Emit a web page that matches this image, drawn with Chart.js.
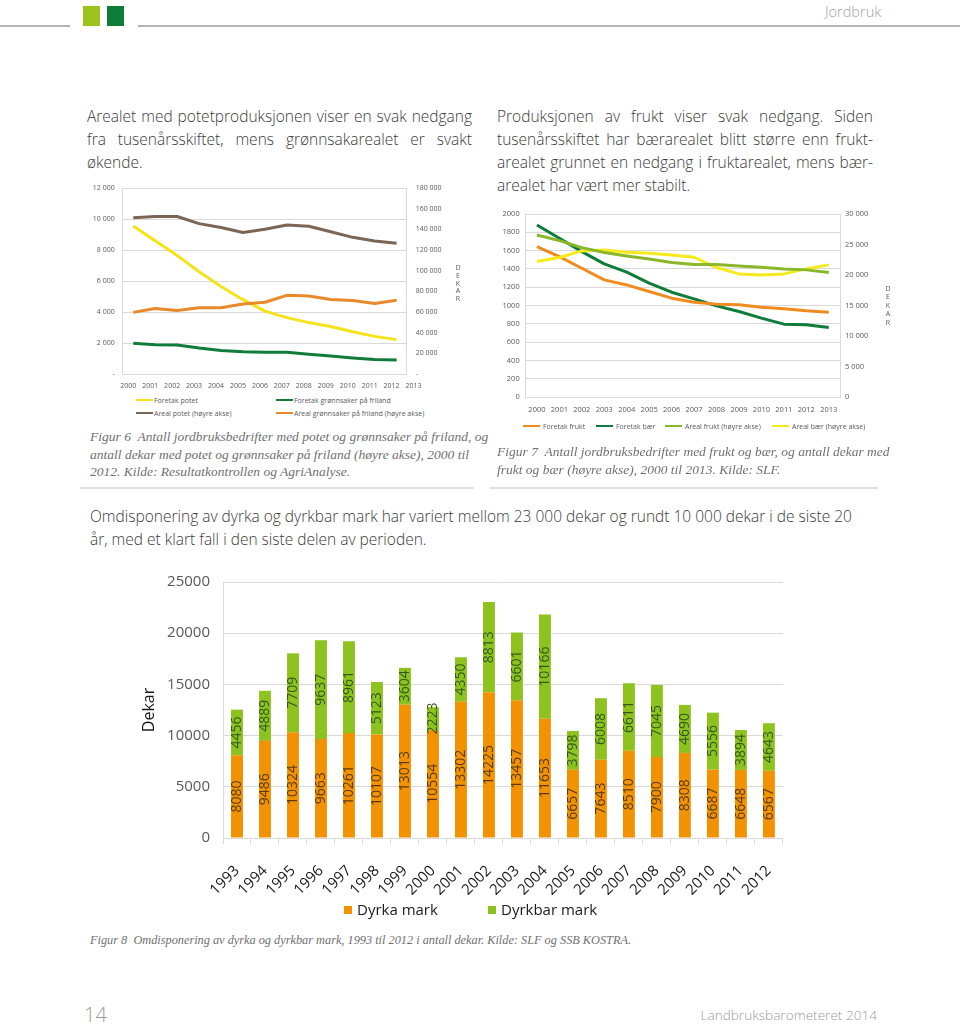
<!DOCTYPE html>
<html><head><meta charset="utf-8">
<script src="https://cdn.jsdelivr.net/npm/chart.js@4.4.1/dist/chart.umd.min.js"></script>
<style>
html,body{margin:0;padding:0;background:#fff;}
body{width:960px;height:1024px;position:relative;overflow:hidden;font-family:"Open Sans",sans-serif;}
.abs{position:absolute;}
.para{font-size:15.5px;line-height:23px;color:#3a3a3a;font-weight:300;}
.jl{text-align:justify;text-align-last:justify;white-space:nowrap;}
.ll{white-space:nowrap;}
.cap{font-family:"Liberation Serif",serif;font-style:italic;font-size:13.5px;line-height:17.5px;color:#707070;}
.leg{position:absolute;font-size:7px;color:#595959;line-height:9px;white-space:nowrap;}
.sw{position:absolute;height:2px;width:17px;}
.dek{position:absolute;font-size:7px;color:#595959;text-align:center;width:10px;}
canvas{position:absolute;}
</style></head><body>

<!-- header -->
<div class="abs" style="left:0;top:25px;width:70px;height:1.5px;background:#b3b3b3"></div>
<div class="abs" style="left:138px;top:25px;width:822px;height:1.5px;background:#b3b3b3"></div>
<div class="abs" style="left:83px;top:6px;width:17px;height:20px;background:#9cc31c"></div>
<div class="abs" style="left:107px;top:6px;width:17px;height:20px;background:#0f7d3a"></div>
<div class="abs" style="left:825px;top:2px;font-size:14.5px;font-weight:300;color:#a3a3a3;">Jordbruk</div>

<!-- paragraphs -->
<div class="abs para" style="left:87px;top:105px;width:385px;">
<div class="jl">Arealet med potetproduksjonen viser en svak nedgang</div>
<div class="jl">fra tusenårsskiftet, mens grønnsakarealet er svakt</div>
<div class="ll">økende.</div>
</div>
<div class="abs para" style="left:497px;top:105px;width:376px;">
<div class="jl">Produksjonen av frukt viser svak nedgang. Siden</div>
<div class="jl">tusenårsskiftet har bærarealet blitt større enn frukt-</div>
<div class="jl">arealet grunnet en nedgang i fruktarealet, mens bær-</div>
<div class="ll">arealet har vært mer stabilt.</div>
</div>

<!-- figure 6 -->
<canvas id="c6" width="400" height="220" style="left:80px;top:175px;"></canvas>
<div class="dek" style="left:453px;top:264px;line-height:7.8px;">D<br>E<br>K<br>A<br>R</div>
<div class="sw" style="left:136px;top:399px;background:#f5e31a"></div><div class="leg" style="left:154px;top:395.5px">Foretak potet</div>
<div class="sw" style="left:276px;top:399px;background:#107c3a"></div><div class="leg" style="left:294px;top:395.5px">Foretak grønnsaker på friland</div>
<div class="sw" style="left:136px;top:412px;background:#7b6656"></div><div class="leg" style="left:154px;top:408.5px">Areal potet (høyre akse)</div>
<div class="sw" style="left:276px;top:412px;background:#e8892a"></div><div class="leg" style="left:294px;top:408.5px">Areal grønnsaker på friland (høyre akse)</div>
<div class="abs cap" style="left:90px;top:428px;width:378px;">
<div class="jl">Figur 6&nbsp; Antall jordbruksbedrifter med potet og grønnsaker på friland, og</div>
<div class="jl">antall dekar med potet og grønnsaker på friland (høyre akse), 2000 til</div>
<div class="ll">2012. Kilde: Resultatkontrollen og AgriAnalyse.</div>
</div>
<div class="abs" style="left:80px;top:487px;width:394px;height:2px;background:#e0e0e0"></div>

<!-- figure 7 -->
<canvas id="c7" width="420" height="215" style="left:490px;top:200px;"></canvas>
<div class="dek" style="left:883px;top:285px;line-height:8.4px;">D<br>E<br>K<br>A<br>R</div>
<div class="sw" style="left:523px;top:425px;background:#f08c1e"></div><div class="leg" style="left:543px;top:421.5px">Foretak frukt</div>
<div class="sw" style="left:596px;top:425px;background:#0e7d3b"></div><div class="leg" style="left:616px;top:421.5px">Foretak bær</div>
<div class="sw" style="left:665px;top:425px;background:#8bb82b"></div><div class="leg" style="left:685px;top:421.5px">Areal frukt (høyre akse)</div>
<div class="sw" style="left:772px;top:425px;background:#f7ea1a"></div><div class="leg" style="left:792px;top:421.5px">Areal bær (høyre akse)</div>
<div class="abs cap" style="left:497px;top:443px;width:376px;">
<div class="jl">Figur 7&nbsp; Antall jordbruksbedrifter med frukt og bær, og antall dekar med</div>
<div class="ll">frukt og bær (høyre akse), 2000 til 2013. Kilde: SLF.</div>
</div>
<div class="abs" style="left:490px;top:487px;width:388px;height:2px;background:#e0e0e0"></div>

<!-- paragraph 3 -->
<div class="abs para" style="left:90px;top:505px;width:800px;">
<div class="ll">Omdisponering av dyrka og dyrkbar mark har variert mellom 23 000 dekar og rundt 10 000 dekar i de siste 20</div>
<div class="ll">år, med et klart fall i den siste delen av perioden.</div>
</div>

<!-- figure 8 -->
<canvas id="c8" width="720" height="345" style="left:80px;top:560px;"></canvas>
<div class="abs" style="left:344px;top:906px;width:8px;height:8px;background:#f39200"></div>
<div class="abs" style="left:357px;top:899px;font-size:15px;color:#1a1a1a;white-space:nowrap;">Dyrka mark</div>
<div class="abs" style="left:488px;top:906px;width:8px;height:8px;background:#8dc21f"></div>
<div class="abs" style="left:501px;top:899px;font-size:15px;color:#1a1a1a;white-space:nowrap;">Dyrkbar mark</div>
<div class="abs cap ll" style="left:90px;top:932px;font-size:12.3px;">Figur 8&nbsp; Omdisponering av dyrka og dyrkbar mark, 1993 til 2012 i antall dekar. Kilde: SLF og SSB KOSTRA.</div>

<!-- footer -->
<div class="abs" style="left:84px;top:1001px;font-size:20px;font-weight:300;color:#9a9a9a;">14</div>
<div class="abs" style="right:83px;top:1005px;font-size:13.6px;font-weight:300;color:#9a9a9a;white-space:nowrap;">Landbruksbarometeret 2014</div>

<script>
// ---- Figur 6 data ----
const years6 = [2000,2001,2002,2003,2004,2005,2006,2007,2008,2009,2010,2011,2012];
const xTicks6 = [2000,2001,2002,2003,2004,2005,2006,2007,2008,2009,2010,2011,2012,2013];
const foretakPotet = [9560,8600,7650,6600,5650,4800,4060,3640,3320,3070,2730,2430,2220];
const foretakGronn = [1990,1890,1880,1680,1520,1440,1400,1400,1270,1160,1040,930,900];
const arealPotet = [151400,152600,152600,145700,141900,137100,140300,144400,143200,137800,132400,128900,126700];
const arealGronn = [59700,63500,61600,64100,64100,67900,69500,76200,75600,72100,71100,68300,71400];

// ---- Figur 7 data ----
const years7 = ['2000','2001','2002','2003','2004','2005','2006','2007','2008','2009','2010','2011','2012','2013'];
const foretakFrukt = [1644,1535,1407,1280,1225,1153,1080,1036,1015,1007,982,964,942,927];
const foretakBaer = [1880,1735,1589,1455,1364,1244,1145,1073,996,935,862,796,789,760];
const arealFrukt = [26560,25640,24490,23680,23130,22640,22040,21710,21710,21490,21280,21000,20840,20400];
const arealBaer = [22200,22860,23950,24110,23730,23570,23290,22910,21220,20180,20020,20180,21000,21660];

// ---- Figur 8 data ----
const years8 = ['1993','1994','1995','1996','1997','1998','1999','2000','2001','2002','2003','2004','2005','2006','2007','2008','2009','2010','2011','2012'];
const dyrka = [8080,9486,10324,9663,10261,10107,13013,10554,13302,14225,13457,11653,6657,7643,8510,7900,8308,6687,6648,6567];
const dyrkbar = [4456,4889,7709,9637,8961,5123,3604,2223,4350,8813,6601,10166,3798,6008,6611,7045,4690,5556,3894,4643];

const fmt = v => String(v).replace(/\B(?=(\d{3})+(?!\d))/g, ' ');
const plain = v => String(v);
const GRID = '#d9d9d9', TICK = '#595959';
Chart.defaults.font.family = '"Open Sans", sans-serif';

function lineDs(label, data, color, axis){
  return {label, data, borderColor: color, backgroundColor: color, yAxisID: axis,
    borderWidth: 3, pointRadius: 0, tension: 0, fill: false, borderJoinStyle: 'round'};
}
const common = {responsive:false, maintainAspectRatio:false, animation:false,
  plugins:{legend:{display:false}, tooltip:{enabled:false}}};

new Chart(document.getElementById('c6'), {
  type: 'line',
  data: {labels: years6, datasets: [
    lineDs('Areal potet (høyre akse)', arealPotet, '#7b6656', 'y1'),
    lineDs('Areal grønnsaker på friland (høyre akse)', arealGronn, '#e8892a', 'y1'),
    lineDs('Foretak grønnsaker på friland', foretakGronn, '#107c3a', 'y'),
    lineDs('Foretak potet', foretakPotet, '#f5e31a', 'y')
  ]},
  options: Object.assign({}, common, {
    layout: {padding: {top: 10, left: 0, right: 0, bottom: 0}},
    scales: {
      x: {type: 'linear', min: 1999.52, max: 2012.46,
          afterBuildTicks: s => { s.ticks = xTicks6.map(v => ({value: v})); },
          ticks: {autoSkip: false, maxRotation: 0, labelOffset: -5, padding: 0, font: {size: 7}, color: TICK, callback: plain},
          grid: {display: false}, border: {display: false},
          afterFit: s => { s.height = 21; }},
      y: {position: 'left', min: 0, max: 12000,
          ticks: {stepSize: 2000, padding: 8, font: {size: 7}, color: TICK, callback: v => v === 0 ? '-' : fmt(v)},
          grid: {color: GRID, drawTicks: false}, border: {color: GRID},
          afterFit: s => { s.width = 42.7; }},
      y1: {position: 'right', min: 0, max: 180000,
          ticks: {stepSize: 20000, padding: 9, font: {size: 7}, color: TICK, callback: v => v === 0 ? '-' : fmt(v)},
          grid: {drawOnChartArea: false, drawTicks: false}, border: {color: GRID},
          afterFit: s => { s.width = 73.3; }}
    }
  })
});

new Chart(document.getElementById('c7'), {
  type: 'line',
  data: {labels: years7, datasets: [
    lineDs('Areal frukt (høyre akse)', arealFrukt, '#8bb82b', 'y1'),
    lineDs('Areal bær (høyre akse)', arealBaer, '#f7ea1a', 'y1'),
    lineDs('Foretak frukt', foretakFrukt, '#f08c1e', 'y'),
    lineDs('Foretak bær', foretakBaer, '#0e7d3b', 'y')
  ]},
  options: Object.assign({}, common, {
    layout: {padding: {top: 14, left: 0, right: 0, bottom: 0}},
    scales: {
      x: {offset: true,
          ticks: {autoSkip: false, maxRotation: 0, padding: 0, font: {size: 7.5}, color: TICK},
          grid: {display: false}, border: {display: false},
          afterFit: s => { s.height = 18; }},
      y: {position: 'left', min: 0, max: 2000,
          ticks: {stepSize: 200, padding: 6, font: {size: 7.5}, color: TICK, callback: plain},
          grid: {color: GRID, drawTicks: false}, border: {color: GRID},
          afterFit: s => { s.width = 35.7; }},
      y1: {position: 'right', min: 0, max: 30000,
          ticks: {stepSize: 5000, padding: 5, font: {size: 7.5}, color: TICK, callback: v => fmt(v)},
          grid: {drawOnChartArea: false, drawTicks: false}, border: {color: GRID},
          afterFit: s => { s.width = 70; }}
    }
  })
});

const barLabels = {
  id: 'barLabels',
  afterDatasetsDraw(chart) {
    const ctx = chart.ctx;
    chart.data.datasets.forEach((ds, di) => {
      const meta = chart.getDatasetMeta(di);
      meta.data.forEach((bar, i) => {
        const p = bar.getProps(['x', 'y', 'base'], true);
        ctx.save();
        ctx.translate(p.x, (p.y + p.base) / 2);
        ctx.rotate(-Math.PI / 2);
        ctx.font = '14px "Open Sans", sans-serif';
        ctx.fillStyle = ds.labelColor;
        ctx.textAlign = 'center';
        ctx.textBaseline = 'middle';
        ctx.fillText(String(ds.data[i]), 0, 0);
        ctx.restore();
      });
    });
  }
};

new Chart(document.getElementById('c8'), {
  type: 'bar',
  data: {labels: years8, datasets: [
    {label: 'Dyrka mark', data: dyrka, backgroundColor: '#f39200', labelColor: '#5a3a12',
     categoryPercentage: 0.85, barPercentage: 0.5},
    {label: 'Dyrkbar mark', data: dyrkbar, backgroundColor: '#8dc21f', labelColor: '#32591a',
     categoryPercentage: 0.85, barPercentage: 0.5}
  ]},
  plugins: [barLabels],
  options: Object.assign({}, common, {
    layout: {padding: {top: 17, left: 0, right: 15, bottom: 0}},
    scales: {
      x: {stacked: true, offset: true,
          ticks: {autoSkip: false, minRotation: 45, maxRotation: 45, padding: 18, font: {size: 15}, color: '#1a1a1a'},
          grid: {display: true, drawOnChartArea: false, drawTicks: true, tickLength: 6, color: GRID, offset: true},
          border: {color: GRID},
          afterFit: s => { s.height = 67; }},
      y: {stacked: true, min: 0, max: 25000,
          ticks: {stepSize: 5000, padding: 13, font: {size: 15}, color: TICK, callback: plain},
          grid: {color: GRID, drawTicks: false}, border: {color: GRID},
          title: {display: true, text: 'Dekar', font: {size: 16}, color: '#1a1a1a', padding: {top: 60, bottom: 0}},
          afterFit: s => { s.width = 143; }}
    }
  })
});
</script>
</body></html>
